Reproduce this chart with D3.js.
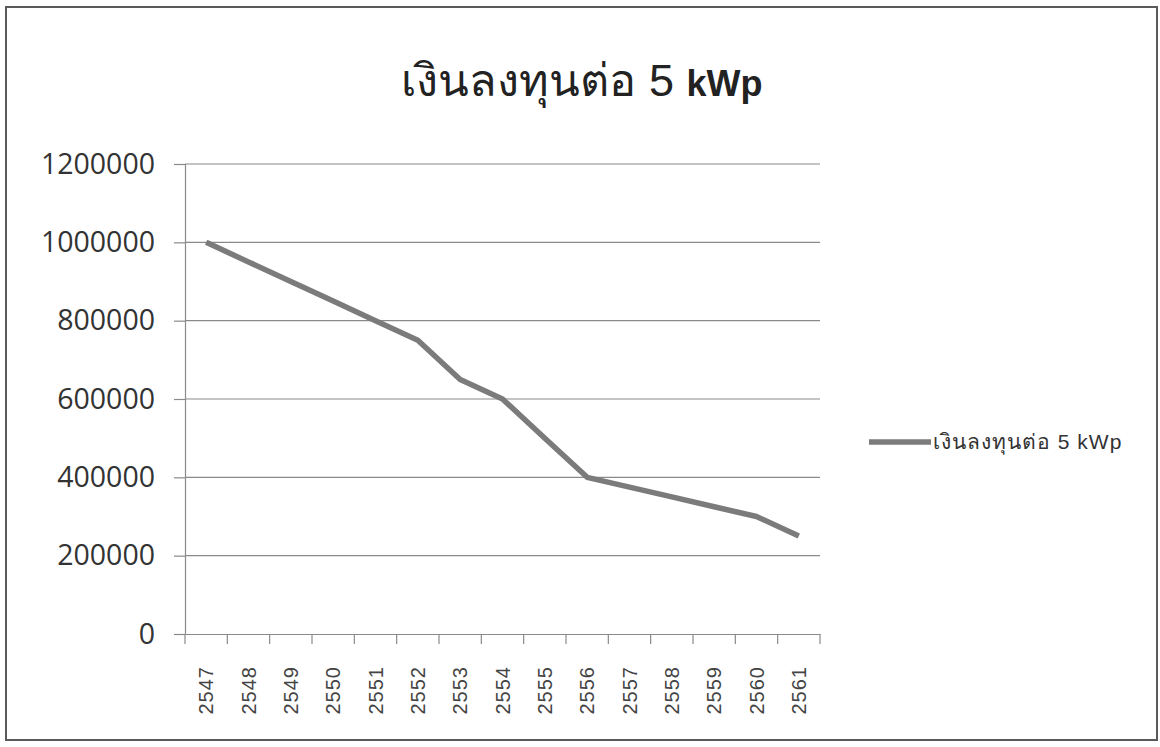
<!DOCTYPE html>
<html><head><meta charset="utf-8">
<script src="https://cdn.jsdelivr.net/npm/d3@7/dist/d3.min.js"></script>
<style>body{margin:0;background:#fff}svg{display:block}</style>
</head><body>
<svg id="chart" width="1160" height="747"></svg>
<script>
const categories = ["2547","2548","2549","2550","2551","2552","2553","2554","2555","2556","2557","2558","2559","2560","2561"];
const values = [1000000,950000,900000,850000,800000,750000,650000,600000,500000,400000,375000,350000,325000,300000,250000];
const yTicks = [0,200000,400000,600000,800000,1000000,1200000];
const titleMain = "เงินลงทุนต่อ 5 ";
const titleBold = "kWp";
const seriesName = "เงินลงทุนต่อ 5 kWp";

const svg = d3.select("#chart");
const m = {left:185, right:820, top:164, bottom:634};

svg.append("rect").attr("x",6).attr("y",7).attr("width",1151).attr("height",733)
  .attr("fill","#fff").attr("stroke","#5a5a5a").attr("stroke-width",2);

const x = d3.scaleBand().domain(categories).range([m.left, m.right]);
const y = d3.scaleLinear().domain([0,1200000]).range([m.bottom, m.top]);

// gridlines
svg.append("g").selectAll("line").data(yTicks.filter(d=>d>0)).join("line")
  .attr("x1",m.left).attr("x2",m.right)
  .attr("y1",d=>y(d)).attr("y2",d=>y(d))
  .attr("stroke","#8a8a8a").attr("stroke-width",1.2);

// y axis
const yAxis = svg.append("g").attr("transform",`translate(${m.left},0)`)
  .call(d3.axisLeft(y).tickValues(yTicks).tickSize(11).tickPadding(19).tickFormat(d3.format("d")));
yAxis.select(".domain").attr("stroke","#8a8a8a").attr("stroke-width",1.2);
yAxis.selectAll(".tick line").attr("stroke","#8a8a8a").attr("stroke-width",1.2);
yAxis.selectAll("text").attr("font-family","'Open Sans', sans-serif").attr("font-size",28.5).attr("fill","#333");

// x axis
const xAxis = svg.append("g").attr("transform",`translate(0,${m.bottom})`)
  .call(d3.axisBottom(x).tickSize(0).tickSizeOuter(0));
xAxis.select(".domain").attr("stroke","#8a8a8a").attr("stroke-width",1.2);
const bounds = categories.map(c=>x(c)).concat([x(categories[categories.length-1])+x.bandwidth()]);
svg.append("g").selectAll("line").data(bounds).join("line")
  .attr("x1",d=>d).attr("x2",d=>d).attr("y1",m.bottom).attr("y2",m.bottom+10)
  .attr("stroke","#8a8a8a").attr("stroke-width",1.2);
xAxis.selectAll(".tick text")
  .attr("font-family","'Liberation Sans', Arial, sans-serif").attr("font-size",20).attr("fill","#444")
  .attr("letter-spacing",1)
  .attr("transform","rotate(-90)").attr("text-anchor","end")
  .attr("x",-32).attr("y",0).attr("dy","0.35em");

// line
const line = d3.line().x((d,i)=>x(categories[i])+x.bandwidth()/2).y(d=>y(d));
svg.append("path").datum(values).attr("d",line)
  .attr("fill","none").attr("stroke","#7b7b7b").attr("stroke-width",5.5)
  .attr("stroke-linejoin","round").attr("stroke-linecap","butt");

// title
const t = svg.append("text").attr("x",582).attr("y",96).attr("text-anchor","middle")
  .attr("font-family","'Liberation Sans', Arial, sans-serif").attr("fill","#222");
t.append("tspan").attr("font-size",45).text(titleMain);
t.append("tspan").attr("font-size",36).attr("font-weight","bold").text(titleBold);

// legend
svg.append("line").attr("x1",869).attr("x2",931).attr("y1",442).attr("y2",442)
  .attr("stroke","#7b7b7b").attr("stroke-width",5.5);
svg.append("text").attr("x",933).attr("y",449)
  .attr("font-family","'Liberation Sans', Arial, sans-serif").attr("font-size",21).attr("fill","#333")
  .attr("letter-spacing",1)
  .text(seriesName);
</script>
</body></html>
